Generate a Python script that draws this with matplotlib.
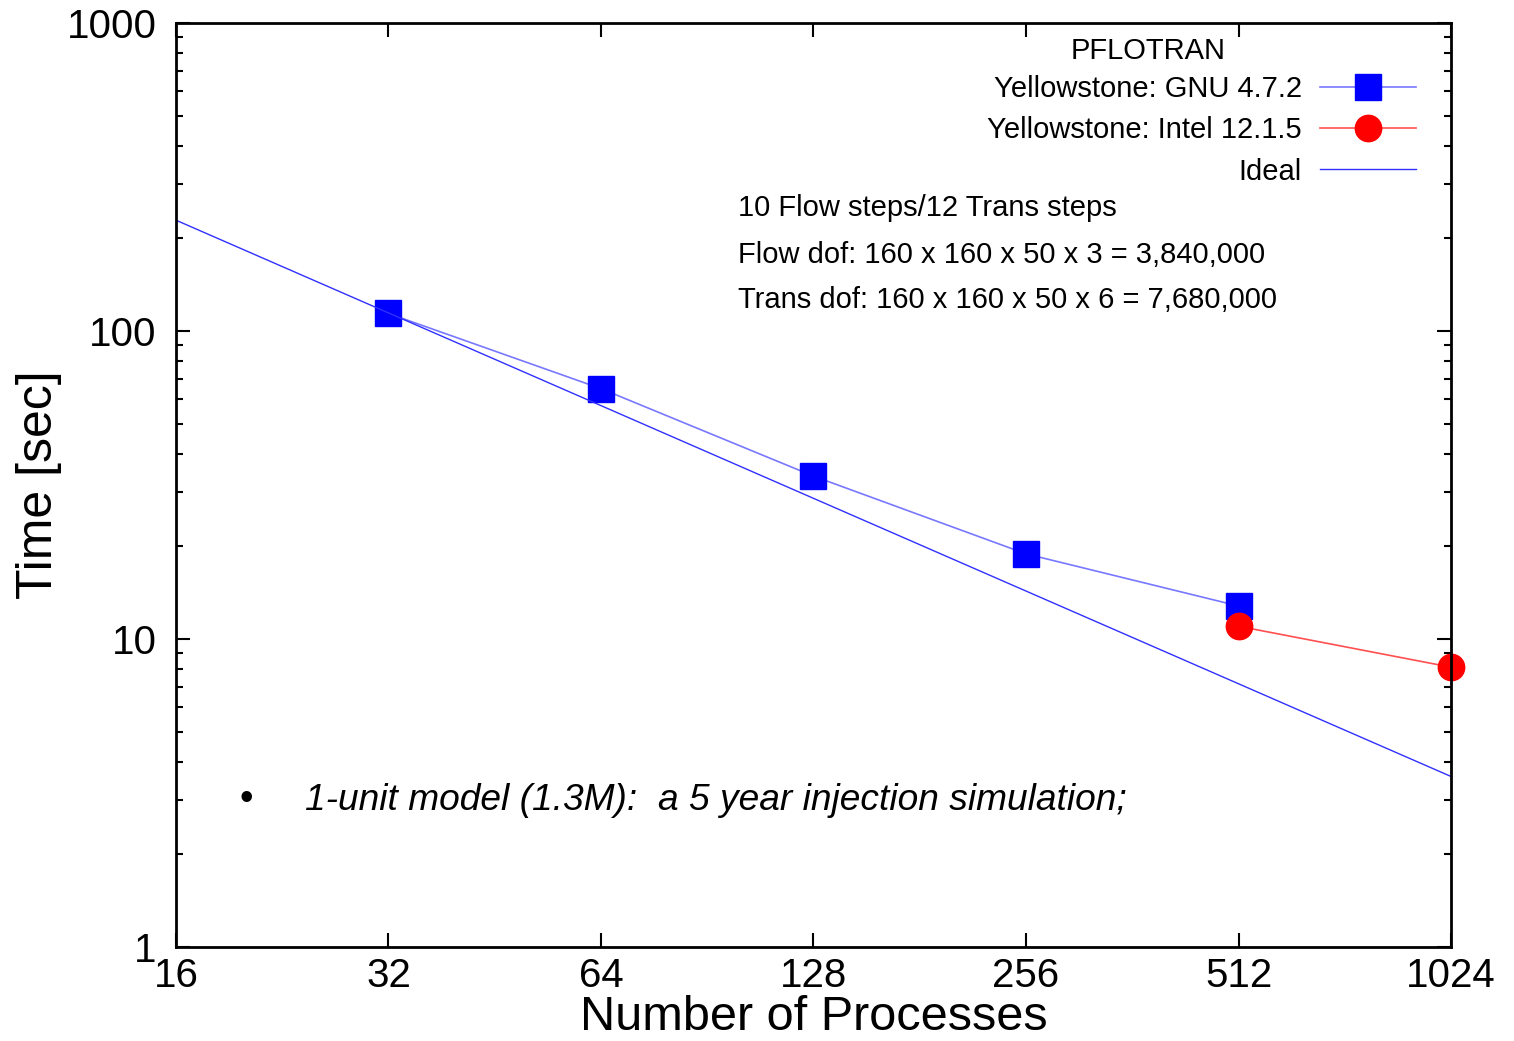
import numpy as np
import matplotlib
matplotlib.use("Agg")
import matplotlib.pyplot as plt
from matplotlib.ticker import FixedLocator, LogLocator, NullFormatter

plt.rcParams['font.family'] = ['Liberation Sans', 'DejaVu Sans']

# data
gnu_procs = [32, 64, 128, 256, 512]
gnu_time = [114, 65, 33.8, 18.9, 12.8]
intel_procs = [512, 1024]
intel_time = [11.0, 8.1]
ideal_procs = [16, 1024]
ideal_ref = 114.5  # ideal time at 32 processes
xticks = [16, 32, 64, 128, 256, 512, 1024]
yticks = [1, 10, 100, 1000]

fig = plt.figure(figsize=(15.14, 10.41), dpi=100)
ax = fig.add_axes([0.1162, 0.0903, 0.8422, 0.8876])

ideal_time = [ideal_ref * 32 / p for p in ideal_procs]

ax.plot(gnu_procs, gnu_time, color='#7878ff', lw=1.2, marker='s', ms=19,
        mfc='#0000ff', mec='#0000ff', label='Yellowstone: GNU 4.7.2', clip_on=False)
ax.plot(intel_procs, intel_time, color='#ff5050', lw=1.2, marker='o', ms=19,
        mfc='#ff0000', mec='#ff0000', label='Yellowstone: Intel 12.1.5', clip_on=False)
ax.plot(ideal_procs, ideal_time, color='#3030ff', lw=1.0, label='Ideal')

ax.set_xscale('log', base=2)
ax.set_yscale('log')
ax.set_xlim(16, 1024)
ax.set_ylim(1, 1000)
ax.xaxis.set_major_locator(FixedLocator(xticks))
ax.set_xticklabels([str(t) for t in xticks])
ax.xaxis.set_minor_locator(FixedLocator([]))
ax.yaxis.set_major_locator(FixedLocator(yticks))
ax.set_yticklabels([str(t) for t in yticks])
ax.yaxis.set_minor_locator(LogLocator(base=10, subs=np.arange(2, 10)))
ax.yaxis.set_minor_formatter(NullFormatter())

ax.tick_params(which='both', direction='in', top=True, right=True, width=1.5)
ax.tick_params(which='major', length=10, labelsize=29)
ax.tick_params(which='minor', length=5)
ax.tick_params(axis='x', pad=7)
ax.tick_params(axis='y', pad=14)
for s in ax.spines.values():
    s.set_linewidth(2)

ax.set_xlabel('Number of Processes', fontsize=35, labelpad=0)
ax.set_ylabel('Time [sec]', fontsize=36, labelpad=3)

leg = ax.legend(loc='upper right', frameon=False, markerfirst=False,
                fontsize=21, handlelength=3.3, handletextpad=0.62,
                labelspacing=0.45, borderpad=0.4, borderaxespad=0,
                bbox_to_anchor=(0.9817, 0.956))
for t in leg.get_texts():
    t.set_ha('right')

fig.text(1148 / 1514, 1 - 51 / 1041, 'PFLOTRAN', fontsize=21, ha='center', va='center')

notes = ['10 Flow steps/12 Trans steps',
         'Flow dof: 160 x 160 x 50 x 3 = 3,840,000',
         'Trans dof: 160 x 160 x 50 x 6 = 7,680,000']
note_y = [208, 255, 300]
for txt, yp in zip(notes, note_y):
    fig.text(738 / 1514, 1 - yp / 1041, txt, fontsize=21, ha='left', va='center')

fig.text(246 / 1514, 1 - 800 / 1041, '\u2022', fontsize=28, ha='center', va='center')
fig.text(305 / 1514, 1 - 800 / 1041, '1-unit model (1.3M):  a 5 year injection simulation;',
         fontsize=26.7, style='italic', ha='left', va='center')

fig.savefig('out.png', dpi=100)
